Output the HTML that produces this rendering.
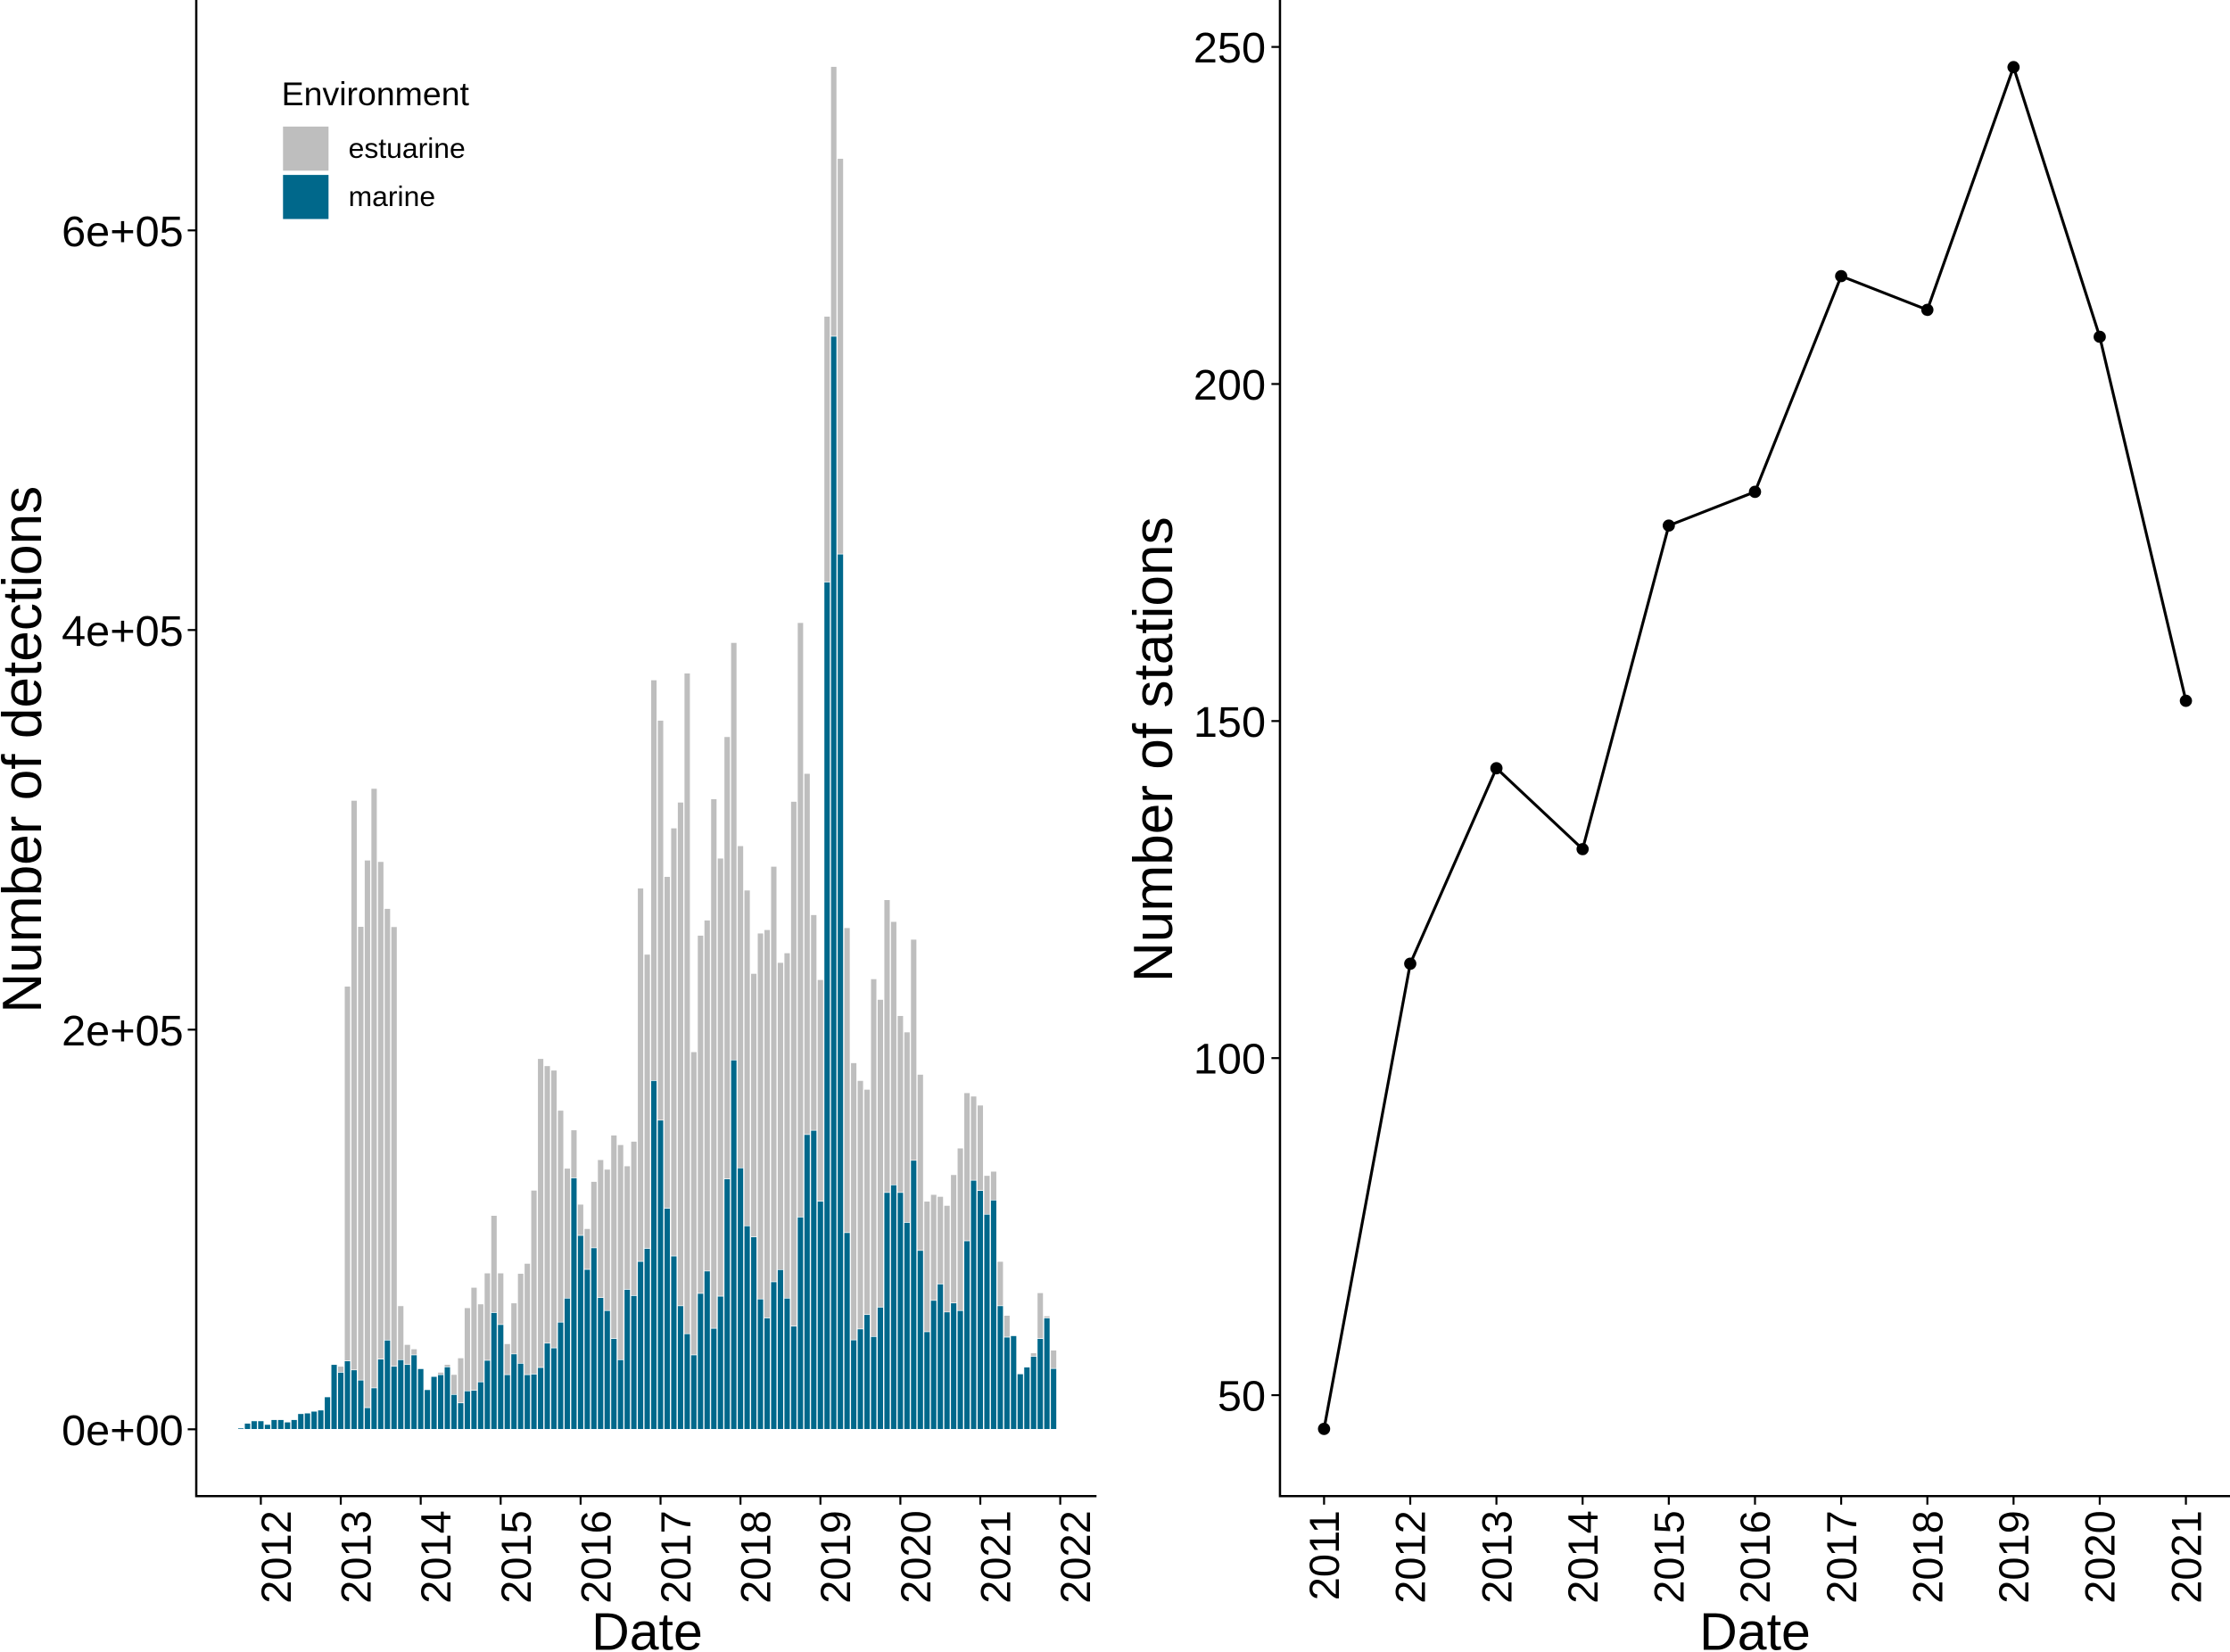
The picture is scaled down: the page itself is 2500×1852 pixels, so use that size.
<!DOCTYPE html>
<html><head><meta charset="utf-8"><style>
html,body{margin:0;padding:0;background:#fff;}
svg{display:block;font-family:"Liberation Sans",Arial,sans-serif;}
</style></head><body>
<svg id="chart" width="2500" height="1852" viewBox="0 0 1568 1161.6" preserveAspectRatio="none" xmlns="http://www.w3.org/2000/svg">
<g id="left"></g>
<g id="right"></g>
</svg>
<script>
// Detections (thousands), monthly Oct 2011 .. Dec 2021
const marine = [0.6,3,4.2,4.2,2.4,4.8,4.8,3.6,4.8,7.8,8.1,9,9.6,16.2,32.4,28.5,34.2,29.7,24.6,10.8,20.7,35.1,44.6,31.5,34.8,32.4,37.2,30.3,19.8,26.4,27.3,31.2,17.4,13.2,19.2,19.5,23.7,34.5,58.4,52.4,27.3,37.7,33,27.3,27.6,30.9,43.1,40.7,53.6,65.6,125.8,97,80,90.8,65.9,59.4,45.4,34.8,70,66.9,84,90.5,174.5,154.7,110.6,86.7,61.8,47.8,37.2,68,79.2,50.5,66.6,125.3,184.8,130.8,101.8,96.3,65.2,55.7,73.8,79.9,65.6,51.6,106.2,147.5,149.6,114.1,424,547,438,98.4,44.7,50.2,57.4,46.4,61.1,118.5,122.3,118.5,103.5,134.6,89.5,48.8,64.5,72.7,58.7,63.2,59.4,94.3,124.6,119.5,107.6,114.7,61.8,46.1,46.8,27.7,31.1,36.5,45.4,55.7,30.4];
const estuarine = [0,0,0,0,0,0,0,0,0,0,0,0,0,0,0,3,187.5,285,227,274,300,249,216,220,27,10,3,0,0,0,1.2,1.2,10,22.5,41.6,51.5,39,43.7,48.6,25.8,15.5,25.5,45,55.7,92,154.6,138.8,139,106,65,24,15.6,20.4,33.2,69,70.7,101.8,107.6,61.8,77.2,186.8,147.2,200.5,200.1,166,214.2,252,330.6,151.7,179.2,175.6,265,219.2,221.3,208.9,161.2,168,131.8,183.1,194.3,207.9,153.7,172.8,262.6,297.5,180.7,107.9,110.9,133,135,198,152.6,138.7,124.3,112.7,179,154,146.5,131.8,88.5,95.3,110.6,88.1,65.3,53,43.8,53.3,64.2,81.3,74.1,42.1,42.7,19.4,14.4,22.2,10.9,0,0,0,1.7,22.9,1,9.2];
const detTicks = [0,200,400,600];
const detTickLabels = ["0e+00","2e+05","4e+05","6e+05"];
const yearTicks = [2012,2013,2014,2015,2016,2017,2018,2019,2020,2021,2022];
// Stations per year
const stationYears = [2011,2012,2013,2014,2015,2016,2017,2018,2019,2020,2021];
const stations = [45,114,143,131,179,184,216,211,247,207,153];
const stationTicks = [50,100,150,200,250];

const NS="http://www.w3.org/2000/svg";
function mk(parent,tag,attrs,text){const e=document.createElementNS(NS,tag);for(const k in attrs)e.setAttribute(k,attrs[k]);if(text!==undefined)e.textContent=text;parent.appendChild(e);return e;}

// ---- Left panel ----
const L=document.getElementById('left');
const yL=v=>1005-v*281/200;
const xMonth=m=>183.4+m*(562.1/120); // m = months since Jan 2012
const startMonth=-3; // Oct 2011
for(let i=0;i<marine.length;i++){
  const x=xMonth(startMonth+i)-2.1;
  const tot=marine[i]+estuarine[i];
  if(estuarine[i]>0){
    const r=mk(L,'rect',{x:x,y:yL(tot),width:4.2,height:yL(marine[i])-yL(tot),fill:'#bebebe',stroke:'#ffffff','stroke-width':0.4});
    
    
  }
  const b=mk(L,'rect',{x:x,y:yL(marine[i]),width:4.2,height:yL(0)-yL(marine[i]),fill:'#00688b',stroke:'#ffffff','stroke-width':0.4});
  
  
}
let ax=mk(L,'path',{d:'M138,0 V1052 H771',fill:'none',stroke:'#000','stroke-width':1.6});


detTicks.forEach((v,k)=>{
  mk(L,'line',{x1:132,x2:138,y1:yL(v),y2:yL(v),stroke:'#000','stroke-width':1.4});
  const t=mk(L,'text',{x:129,y:yL(v)+11,'text-anchor':'end','font-size':30.5,fill:'#000'},detTickLabels[k]);
  
  
});
yearTicks.forEach(yr=>{
  const x=xMonth((yr-2012)*12);
  mk(L,'line',{x1:x,x2:x,y1:1052,y2:1058,stroke:'#000','stroke-width':1.4});
  const t=mk(L,'text',{x:0,y:0,transform:`translate(${x+21},1062) rotate(-90)`,'text-anchor':'end','font-size':29.5,fill:'#000'},String(yr));
  
  
});
// ---- Right panel ----
const R=document.getElementById('right');
const yR=v=>981-(v-50)*237/50;
const xR=y=>931+(y-2011)*60.6;
let ax2=mk(R,'path',{d:'M900,0 V1052 H1568',fill:'none',stroke:'#000','stroke-width':1.6});


stationTicks.forEach(v=>{
  mk(R,'line',{x1:894,x2:900,y1:yR(v),y2:yR(v),stroke:'#000','stroke-width':1.4});
  const t=mk(R,'text',{x:890,y:yR(v)+11,'text-anchor':'end','font-size':30.5,fill:'#000'},String(v));
  
  
});
stationYears.forEach(yr=>{
  const x=xR(yr);
  mk(R,'line',{x1:x,x2:x,y1:1052,y2:1058,stroke:'#000','stroke-width':1.4});
  const t=mk(R,'text',{x:0,y:0,transform:`translate(${x+10.5},1062) rotate(-90)`,'text-anchor':'end','font-size':29.5,fill:'#000'},String(yr));
  
  
});
const pts=stations.map((v,i)=>xR(stationYears[i])+','+yR(v)).join(' ');
const ln=mk(R,'polyline',{points:pts,fill:'none',stroke:'#000','stroke-width':2});


stations.forEach((v,i)=>{
  const c=mk(R,'circle',{cx:xR(stationYears[i]),cy:yR(v),r:4.3,fill:'#000'});
  
  
});
</script>
<svg style="position:absolute;left:0;top:0" width="2500" height="1852" viewBox="0 0 1568 1161.6" preserveAspectRatio="none" xmlns="http://www.w3.org/2000/svg" font-family="Liberation Sans, Arial, sans-serif">
<text transform="translate(29,527) rotate(-90)" text-anchor="middle" font-size="39">Number of detections</text>
<text x="455" y="1160" text-anchor="middle" font-size="37">Date</text>
<text transform="translate(824,527) rotate(-90)" text-anchor="middle" font-size="39">Number of stations</text>
<text x="1234" y="1160" text-anchor="middle" font-size="37">Date</text>
<g>
<text x="198" y="74" font-size="23.5">Environment</text>
<rect x="199" y="89" width="32" height="31" fill="#bebebe"/>
<rect x="199" y="123" width="32" height="31" fill="#00688b"/>
<text x="245" y="111" font-size="20">estuarine</text>
<text x="245" y="145" font-size="20">marine</text>
</g>
</svg>
</body></html>
